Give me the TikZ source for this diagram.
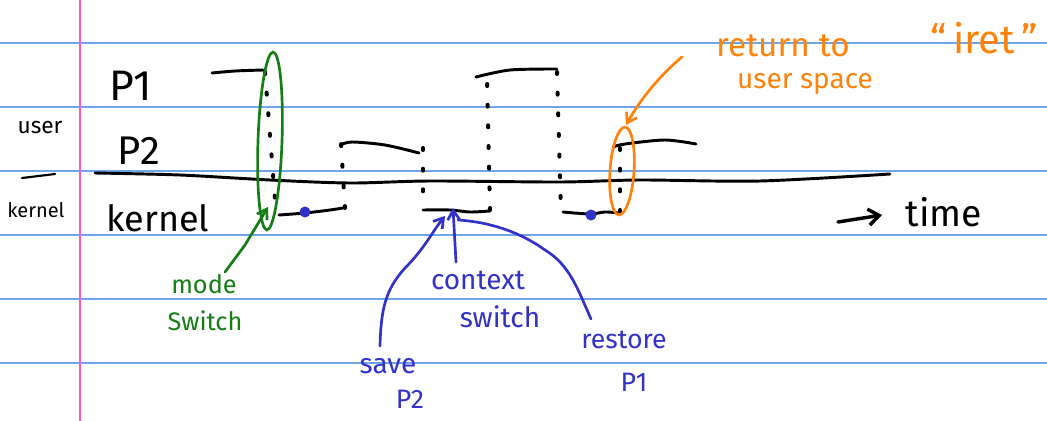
\documentclass[tikz,border=0pt]{standalone}
\usepackage{fontspec}
\setmainfont{Fira Sans}
\usetikzlibrary{arrows.meta}
\definecolor{ruleblue}{RGB}{110,165,235}
\definecolor{marginpink}{RGB}{250,90,180}
\definecolor{pengreen}{RGB}{20,125,20}
\definecolor{penblue}{RGB}{50,50,200}
\definecolor{penorange}{RGB}{255,130,10}
\tikzset{
  rule/.style={ruleblue, line width=0.9pt},
  ink/.style={black, line width=2.2pt, line cap=round, line join=round},
  dots/.style={black, line width=3pt, line cap=round, dash pattern=on 1.5pt off 14pt},
  gink/.style={pengreen, line width=2pt, line cap=round},
  bink/.style={penblue, line width=2pt, line cap=round},
  oink/.style={penorange, line width=2pt, line cap=round},
  hand/.style={inner sep=0pt, anchor=center},
  tipg/.style={-{Straight Barb[length=7pt,width=9pt]}},
}
\begin{document}
\begin{tikzpicture}[x=0.75pt,y=-0.75pt]
\useasboundingbox (0,0) rectangle (1047,421);
\fill[white] (0,0) rectangle (1047,421);
% ruled paper
\foreach \yy in {43,107,171,235,299,363} \draw[rule] (0,\yy) -- (1047,\yy);
\draw[marginpink, line width=1pt] (80,0) -- (80,421);

% left margin labels
\node[hand, font=\fontsize{17}{17}\selectfont] (user) at (40,128) {user};
\draw[ink, line width=1.6pt] (22,178) -- (55,174);
\node[hand, font=\fontsize{15}{15}\selectfont] (kersm) at (36,210) {kernel};

% row labels
\node[hand, font=\fontsize{32}{32}\selectfont] (p1) at (131,86) {P1};
\node[hand, font=\fontsize{30}{30}\selectfont] (p2) at (139,151) {P2};
\node[hand, font=\fontsize{27}{27}\selectfont] (kern) at (158,218) {kernel};

% user/kernel boundary
\draw[ink] plot[smooth] coordinates {(95,173) (180,175) (270,180) (350,183) (430,181) (560,182) (640,180) (760,181) (890,174)};

% timeline
\coordinate (a1) at (212,73); \coordinate (a2) at (263,70);
\draw[ink] plot[smooth] coordinates {(a1) (235,71) (a2)};
\draw[dots] (265,72) -- (276,212);
\draw[ink] plot[smooth] coordinates {(279,215) (305,213) (330,210) (343,208)};
\draw[dots] (345,208) -- (341,143);
\draw[ink] plot[smooth] coordinates {(340,145) (352,142) (385,145) (419,153)};
\draw[dots] (423,148) -- (423,210);
\draw[ink] plot[smooth] coordinates {(423,210) (450,210) (470,212) (490,211)};
\draw[dots] (490,210) -- (487,78);
\draw[ink] plot[smooth] coordinates {(476,77) (510,70) (557,69)};
\draw[dots] (557,72) -- (561,212);
\draw[ink] plot[smooth] coordinates {(563,212) (590,214) (605,212) (620,213)};
\draw[dots] (620,212) -- (620,147);
\draw[ink] plot[smooth] coordinates {(613,147) (625,144) (665,140) (696,144)};

% blue dots
\fill[penblue] (305,212) circle (5.5);
\fill[penblue] (591,215) circle (5.5);

% mode switch (green)
\draw[gink, rotate around={-2:(270,141)}] (270,141) ellipse [x radius=12, y radius=89];
\node[hand, pengreen, font=\fontsize{19}{19}\selectfont] (mode) at (204,284) {mode};
\node[hand, pengreen, font=\fontsize{19}{19}\selectfont] (mswitch) at (205,321) {Switch};
\coordinate (mtip) at (268,207);
\draw[gink, tipg] (225,272) -- (245,245) -- (mtip);

% context switch (blue)
\coordinate (ctip) at (453,208);
\node[hand, penblue, font=\fontsize{21}{21}\selectfont] (context) at (478,280) {context};
\node[hand, penblue, font=\fontsize{21}{21}\selectfont] (cswitch) at (500,317) {switch};
\draw[bink, tipg] (456,262) -- (ctip);
\node[hand, penblue, font=\fontsize{21}{21}\selectfont] (save) at (388,366) {save};
\node[hand, penblue, font=\fontsize{20}{20}\selectfont] (sp2) at (410,399) {P2};
\draw[bink, tipg] (380,346) .. controls (381,310) and (385,290) .. (405,268) .. controls (425,248) and (432,232) .. (445,216);
\node[hand, penblue, font=\fontsize{20}{20}\selectfont] (restore) at (624,340) {restore};
\node[hand, penblue, font=\fontsize{20}{20}\selectfont] (rp1) at (634,382) {P1};
\draw[bink] (591,319) .. controls (578,290) and (570,265) .. (545,250) .. controls (520,232) and (490,222) .. (458,220);

% return to user space (orange)
\draw[oink, rotate around={-4:(622,171)}] (622,171) ellipse [x radius=12, y radius=44];
\node[hand, penorange, font=\fontsize{25}{25}\selectfont] (ret) at (783,46) {return to};
\node[hand, penorange, font=\fontsize{21}{21}\selectfont] (uspace) at (805,84) {user space};
\node[hand, penorange, font=\fontsize{30}{30}\selectfont] (iret) at (984,38) {“\,iret\,”};
\coordinate (otip) at (626,125);
\draw[oink, tipg] (682,57) .. controls (660,75) and (640,100) .. (otip);

% time axis
\node[hand, font=\fontsize{28}{28}\selectfont] (time) at (944,212) {time};
\coordinate (t0) at (838,222);
\draw[ink, line width=2.6pt, -{Straight Barb[length=8pt,width=12pt]}] (t0) -- (882,215);
\end{tikzpicture}
\end{document}
